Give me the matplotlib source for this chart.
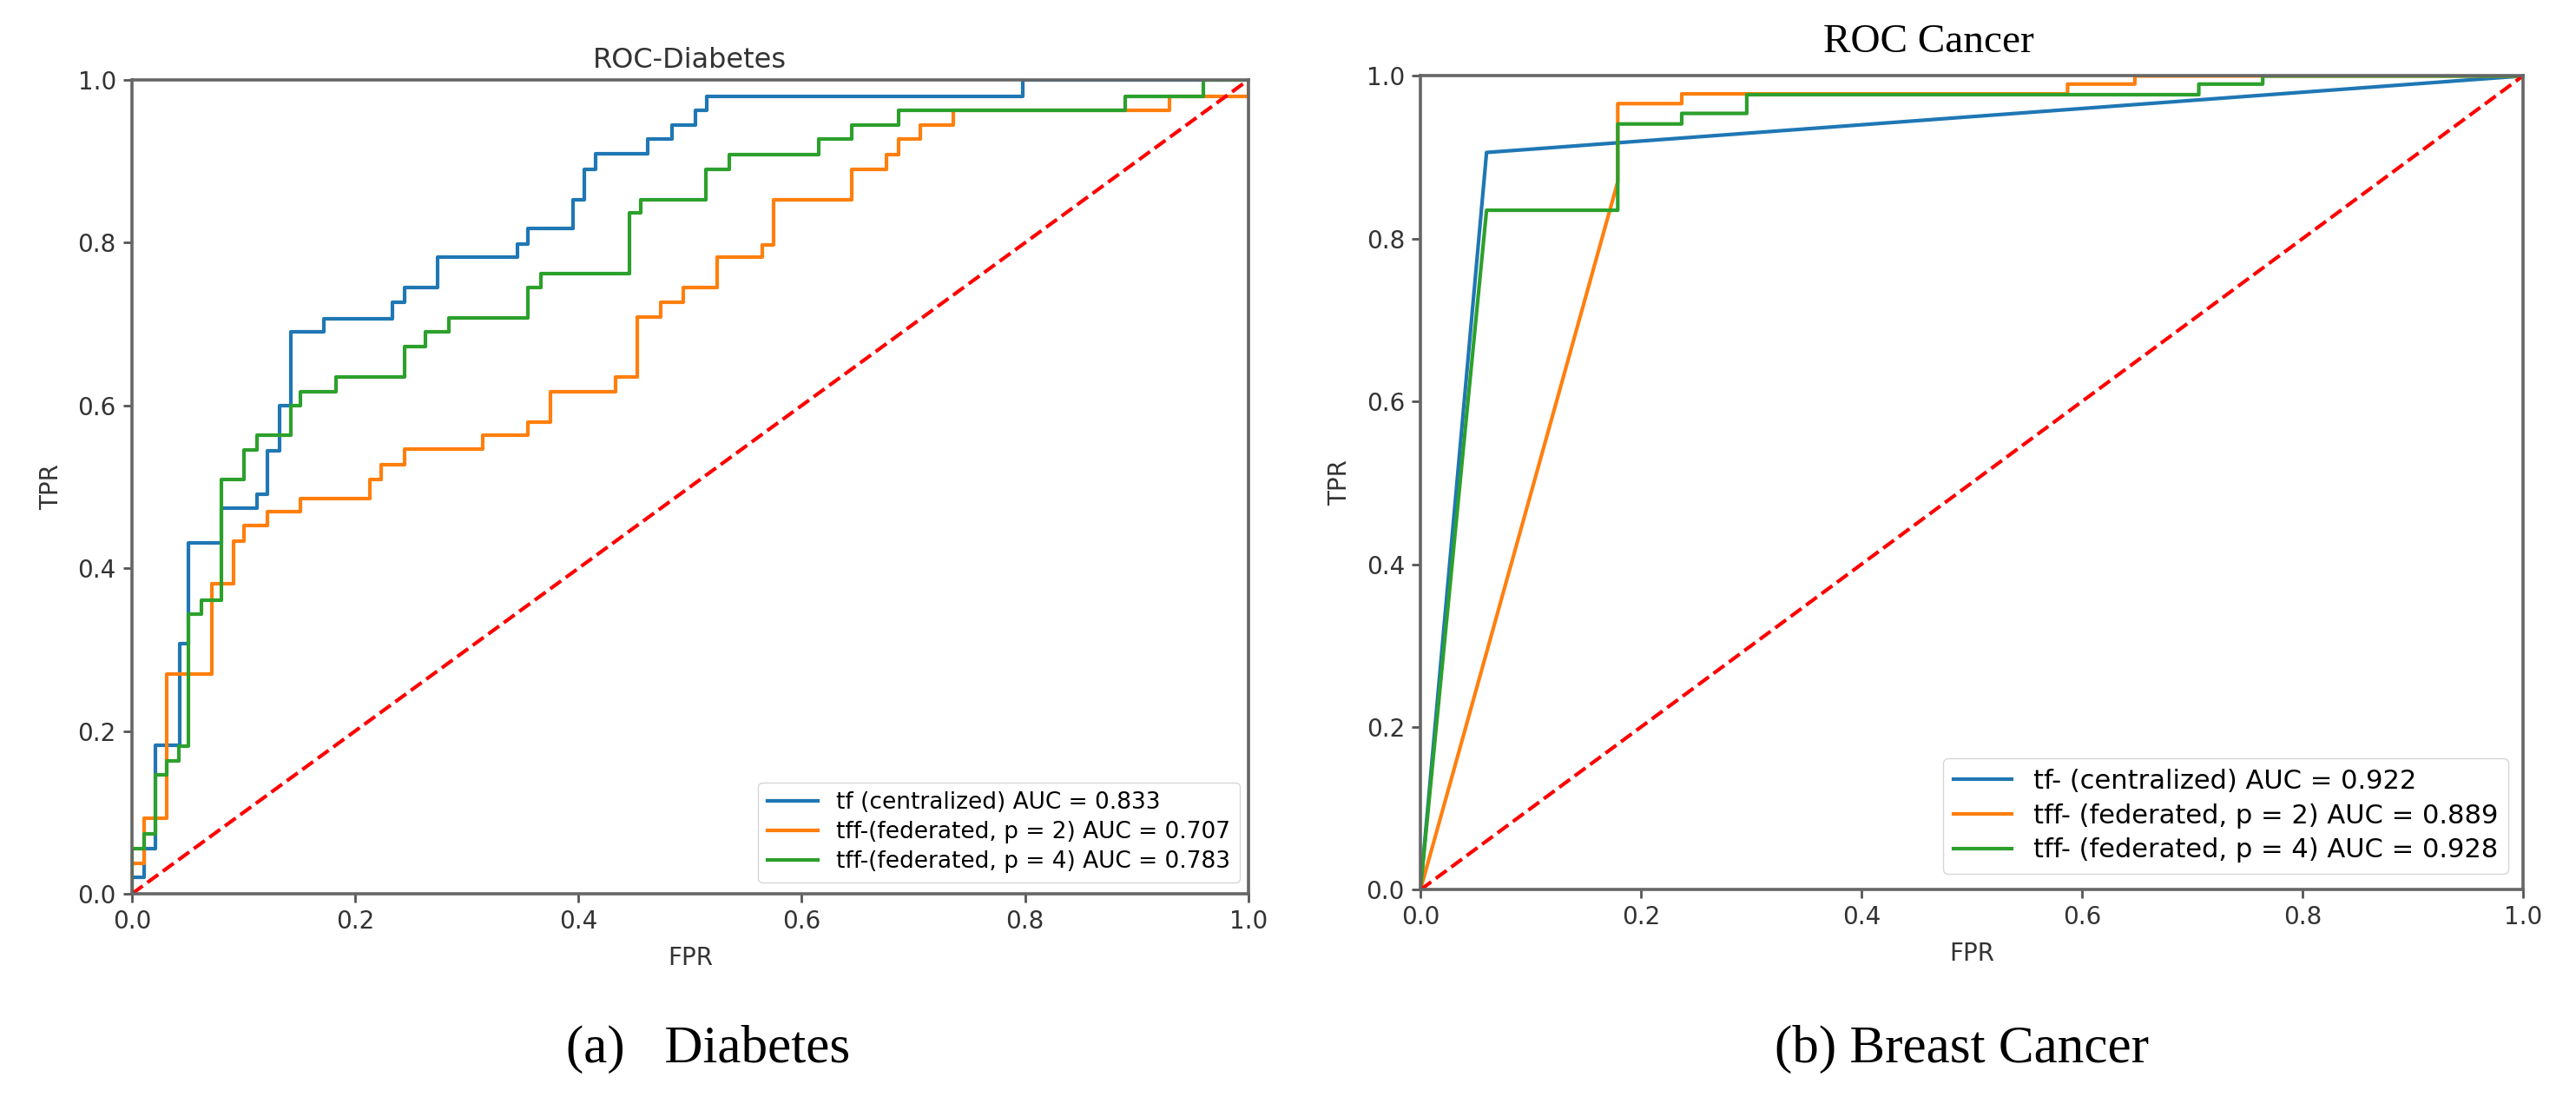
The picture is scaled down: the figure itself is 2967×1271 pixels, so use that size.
import matplotlib
matplotlib.use("Agg")
import matplotlib.pyplot as plt

# ROC - Diabetes (corner points, drawn as post steps)
diab_tf_fpr = [0, 0, 0.011, 0.021, 0.043, 0.051, 0.080, 0.112, 0.121, 0.132, 0.142, 0.172, 0.233,
               0.244, 0.274, 0.345, 0.355, 0.395, 0.405, 0.415, 0.462, 0.484, 0.505, 0.515, 0.798, 1.0]
diab_tf_tpr = [0, 0.020, 0.056, 0.182, 0.307, 0.431, 0.474, 0.491, 0.544, 0.600, 0.690, 0.707, 0.727,
               0.745, 0.782, 0.798, 0.818, 0.853, 0.890, 0.909, 0.927, 0.945, 0.963, 0.980, 1.0, 1.0]

diab_p2_fpr = [0, 0, 0.011, 0.031, 0.072, 0.091, 0.100, 0.121, 0.151, 0.213, 0.223, 0.244, 0.314, 0.355,
               0.375, 0.433, 0.453, 0.474, 0.494, 0.524, 0.565, 0.575, 0.645, 0.676, 0.687, 0.7065,
               0.736, 0.929, 1.0]
diab_p2_tpr = [0, 0.037, 0.093, 0.270, 0.381, 0.433, 0.453, 0.470, 0.486, 0.509, 0.527, 0.546, 0.564,
               0.580, 0.617, 0.635, 0.709, 0.727, 0.745, 0.782, 0.797, 0.853, 0.890, 0.908, 0.927,
               0.945, 0.963, 0.980, 1.0]

diab_p4_fpr = [0, 0, 0.011, 0.021, 0.031, 0.042, 0.051, 0.062, 0.080, 0.100, 0.112, 0.142, 0.151, 0.183,
               0.244, 0.263, 0.284, 0.355, 0.366, 0.446, 0.456, 0.514, 0.535, 0.615, 0.645, 0.687,
               0.890, 0.960, 1.0]
diab_p4_tpr = [0, 0.056, 0.074, 0.146, 0.163, 0.181, 0.344, 0.361, 0.509, 0.545, 0.564, 0.600, 0.617,
               0.635, 0.672, 0.690, 0.708, 0.745, 0.762, 0.837, 0.853, 0.890, 0.908, 0.927, 0.945,
               0.963, 0.980, 1.0, 1.0]

diab_labels = ["tf (centralized) AUC = 0.833",
               "tff-(federated, p = 2) AUC = 0.707",
               "tff-(federated, p = 4) AUC = 0.783"]

# ROC - Breast cancer (plain polylines)
canc_tf_fpr = [0, 0.060, 1.0]
canc_tf_tpr = [0, 0.906, 1.0]

canc_p2_fpr = [0, 0.179, 0.179, 0.237, 0.237, 0.587, 0.587, 0.648, 0.648, 1.0]
canc_p2_tpr = [0, 0.870, 0.966, 0.966, 0.978, 0.978, 0.990, 0.990, 1.0, 1.0]

canc_p4_fpr = [0, 0.060, 0.179, 0.179, 0.237, 0.237, 0.296, 0.296, 0.706, 0.706, 0.764, 0.764, 1.0]
canc_p4_tpr = [0, 0.835, 0.835, 0.941, 0.941, 0.954, 0.954, 0.977, 0.977, 0.990, 0.990, 1.0, 1.0]

canc_labels = ["tf- (centralized) AUC = 0.922",
               "tff- (federated, p = 2) AUC = 0.889",
               "tff- (federated, p = 4) AUC = 0.928"]

colors = ["#1f77b4", "#ff7f0e", "#2ca02c"]

fig = plt.figure(figsize=(29.67, 12.71), dpi=100)
ax1 = fig.add_axes([0.0512, 0.1904, 0.4334, 0.7372])
ax2 = fig.add_axes([0.5514, 0.1940, 0.4280, 0.7372])


def style_axes(ax):
    ax.set_xlim(0, 1)
    ax.set_ylim(0, 1)
    for s in ax.spines.values():
        s.set_linewidth(2.6)
        s.set_color("#666666")
    ax.tick_params(labelsize=20, length=7, width=2, pad=6, colors="#555555", labelcolor="#333333")
    ax.set_xlabel("FPR", fontsize=20, color="#333333", labelpad=10)
    ax.set_ylabel("TPR", fontsize=20, color="#333333", labelpad=12)


# left panel
ax1.plot(diab_tf_fpr, diab_tf_tpr, drawstyle="steps-post", color=colors[0], lw=3, label=diab_labels[0])
ax1.plot(diab_p2_fpr, diab_p2_tpr, drawstyle="steps-post", color=colors[1], lw=3, label=diab_labels[1])
ax1.plot(diab_p4_fpr, diab_p4_tpr, drawstyle="steps-post", color=colors[2], lw=3, label=diab_labels[2])
ax1.plot([0, 1], [0, 1], "r--", lw=3)
style_axes(ax1)
ax1.set_title("ROC-Diabetes", fontsize=23, color="#333333", pad=10)
ax1.legend(loc="lower right", bbox_to_anchor=(0.992, 0.014), borderaxespad=0, fontsize=19,
           labelspacing=0.3, handlelength=2.2, fancybox=True)

# right panel
ax2.plot(canc_tf_fpr, canc_tf_tpr, color=colors[0], lw=3, label=canc_labels[0])
ax2.plot(canc_p2_fpr, canc_p2_tpr, color=colors[1], lw=3, label=canc_labels[1])
ax2.plot(canc_p4_fpr, canc_p4_tpr, color=colors[2], lw=3, label=canc_labels[2])
ax2.plot([0, 1], [0, 1], "r--", lw=3)
style_axes(ax2)
ax2.legend(loc="lower right", bbox_to_anchor=(0.987, 0.020), borderaxespad=0, fontsize=22,
           labelspacing=0.35, handlelength=2.2, fancybox=True)
fig.text(0.7486, 0.962, "ROC Cancer", family="Liberation Serif", fontsize=34, ha="center", va="center")

# captions
fig.text(0.275, 0.0496, "(a)   Diabetes", family="Liberation Serif", fontsize=44, ha="center", va="center")
fig.text(0.7617, 0.0496, "(b) Breast Cancer", family="Liberation Serif", fontsize=44, ha="center", va="center")

plt.savefig("out.png", dpi=100)
